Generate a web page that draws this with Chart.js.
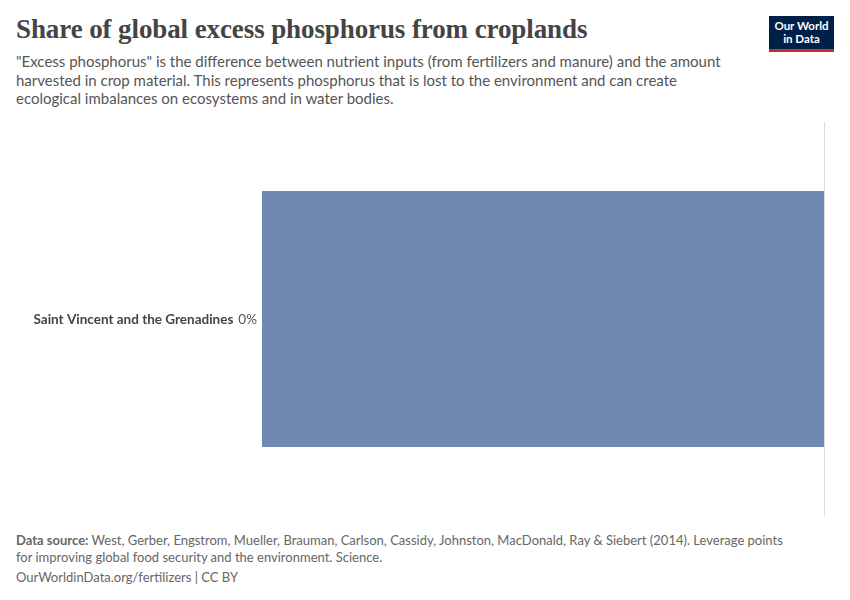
<!DOCTYPE html>
<html>
<head>
<meta charset="utf-8">
<script src="https://cdn.jsdelivr.net/npm/chart.js@4"></script>
<style>
  body { margin: 0; width: 850px; height: 600px; background: #fff; font-family: Lato, sans-serif; position: relative; overflow: hidden; }
  h1 { position: absolute; left: 16px; top: 14px; margin: 0; font-family: "Liberation Serif", "DejaVu Serif", serif; font-weight: bold; font-size: 27px; color: #444; letter-spacing: -0.1px; }
  .sub { position: absolute; left: 16px; top: 52px; width: 725px; font-size: 15px; line-height: 18.5px; color: #555; }
  .logo { position: absolute; left: 769px; top: 16px; width: 65px; height: 36px; background: #002147; color: #fff; font-size: 11.5px; line-height: 13px; text-align: center; padding-top: 3px; box-sizing: border-box; border-bottom: 3px solid #c4302b; font-weight: bold; }
  .chartbox { position: absolute; left: 0; top: 115px; width: 850px; height: 410px; }
  .foot { position: absolute; left: 16px; top: 532px; width: 772px; font-size: 13px; line-height: 17px; color: #666; }
  .foot2 { position: absolute; left: 16px; top: 569px; font-size: 13px; color: #666; }
</style>
</head>
<body>
<h1>Share of global excess phosphorus from croplands</h1>
<div class="sub">"Excess phosphorus" is the difference between nutrient inputs (from fertilizers and manure) and the amount harvested in crop material. This represents phosphorus that is lost to the environment and can create ecological imbalances on ecosystems and in water bodies.</div>
<div class="logo">Our World<br>in Data</div>
<div class="chartbox"><canvas id="c"></canvas></div>
<div class="foot"><b>Data source:</b> West, Gerber, Engstrom, Mueller, Brauman, Carlson, Cassidy, Johnston, MacDonald, Ray &amp; Siebert (2014). Leverage points for improving global food security and the environment. Science.</div>
<div class="foot2">OurWorldinData.org/fertilizers | CC BY</div>
<script>
const countries = ["Saint Vincent and the Grenadines"];
const shares = [0.0003];
const shareLabels = ["0%"];

const labelPlugin = {
  id: "labels",
  afterDraw(chart) {
    const ctx = chart.ctx, a = chart.chartArea;
    const meta = chart.getDatasetMeta(0);
    ctx.save();
    ctx.strokeStyle = "#ddd";
    ctx.lineWidth = 1;
    ctx.beginPath();
    ctx.moveTo(a.right + 0.5, 7);
    ctx.lineTo(a.right + 0.5, 401);
    ctx.stroke();
    meta.data.forEach((bar, i) => {
      ctx.textBaseline = "middle";
      ctx.textAlign = "right";
      ctx.fillStyle = "#555";
      ctx.font = "13.5px Lato";
      ctx.fillText(shareLabels[i], a.left - 5, bar.y + 1);
      const w = ctx.measureText(shareLabels[i]).width;
      ctx.fillStyle = "#444";
      ctx.font = "bold 13.5px Lato";
      ctx.fillText(countries[i], a.left - 10 - w, bar.y + 1);
    });
    ctx.restore();
  }
};

new Chart(document.getElementById("c"), {
  type: "bar",
  data: {
    labels: countries,
    datasets: [{ data: shares, backgroundColor: "#6f88b0", barPercentage: 0.65, categoryPercentage: 1 }]
  },
  options: {
    indexAxis: "y",
    responsive: true,
    maintainAspectRatio: false,
    animation: false,
    layout: { padding: { left: 262, right: 26, top: 7, bottom: 9 } },
    plugins: { legend: { display: false }, tooltip: { enabled: false } },
    scales: {
      x: { display: false, min: 0, max: Math.max(...shares) },
      y: { display: false }
    }
  },
  plugins: [labelPlugin]
});
</script>
</body>
</html>
